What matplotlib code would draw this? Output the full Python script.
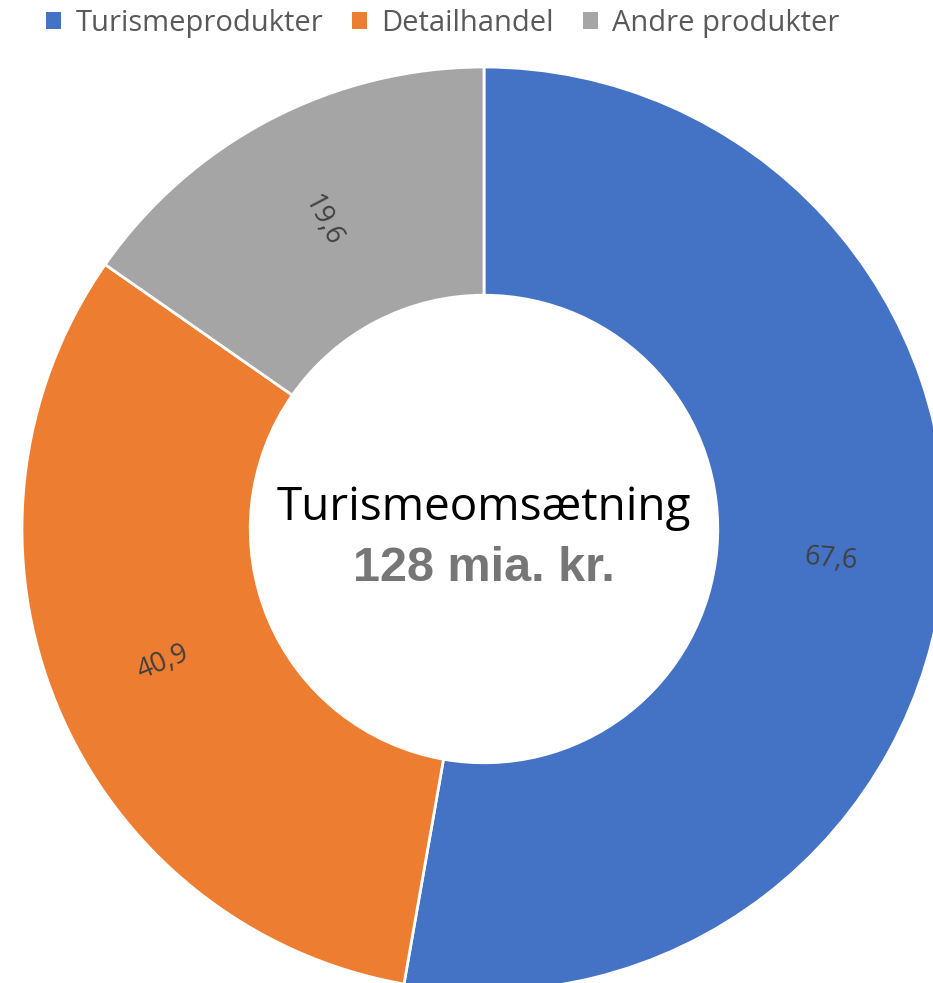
import matplotlib.pyplot as plt
from matplotlib.patches import Patch
import numpy as np

# data
categories = ['Turismeprodukter', 'Detailhandel', 'Andre produkter']
values = [67.6, 40.9, 19.6]
labels = ['67,6', '40,9', '19,6']
colors = ['#4472C4', '#ED7D31', '#A5A5A5']

W, H = 933, 983
cx, cy, r = 484, 529, 462  # pie centre and radius in pixels

fig = plt.figure(figsize=(W / 100, H / 100), dpi=100)
ax = fig.add_axes([0, 0, 1, 1])

wedges, _ = ax.pie(values, colors=colors, startangle=90, counterclock=False,
                   radius=1, wedgeprops=dict(width=0.494, edgecolor='white', linewidth=2))

ax.set_xlim(-cx / r, (W - cx) / r)
ax.set_ylim(-(H - cy) / r, cy / r)
ax.set_aspect('auto')
ax.axis('off')

# value labels in the middle of the ring, rotated along the ring
for w, lab in zip(wedges, labels):
    mid = (w.theta1 + w.theta2) / 2
    rad = np.deg2rad(mid)
    rr = 0.753
    rot = mid % 360
    if rot > 90 and rot < 270:
        rot -= 180
    elif rot >= 270:
        rot -= 360
    ax.text(rr * np.cos(rad), rr * np.sin(rad), lab, rotation=rot,
            ha='center', va='center', fontsize=19.5, color='#404040',
            family='Open Sans', rotation_mode='anchor')

ax.text(0, 0.045, 'Turismeomsætning', ha='center', va='center',
        fontsize=33, color='black', family='Open Sans')
ax.text(0, -0.085, '128 mia. kr.', ha='center', va='center',
        fontsize=35, color='#767676', family='Liberation Sans', weight='bold')

handles = [Patch(facecolor=c, edgecolor='none') for c in colors]
fig.legend(handles, categories, loc='upper center', ncol=3, frameon=False,
           bbox_to_anchor=(443 / W, 1.018), handlelength=0.5, handleheight=0.5,
           handletextpad=0.5, columnspacing=1.0,
           prop={'family': 'Open Sans', 'size': 21}, labelcolor='#595959')

fig.savefig('out.png', dpi=100)
